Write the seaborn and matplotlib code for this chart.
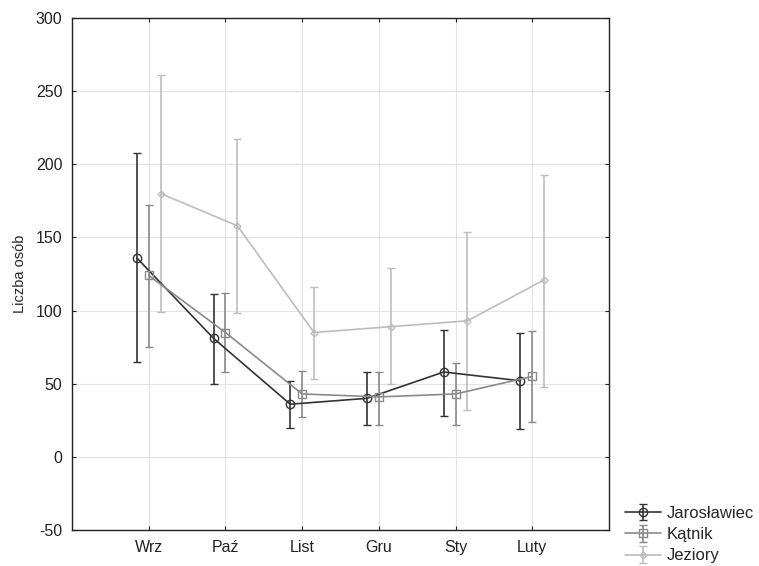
import matplotlib

matplotlib.use('Agg')
import matplotlib.pyplot as plt
import numpy as np
import pandas as pd
import seaborn as sns

months = ['Wrz', 'Paź', 'List', 'Gru', 'Sty', 'Luty']
sites = ['Jarosławiec', 'Kątnik', 'Jeziory']

jar_mean = [136, 81, 36, 40, 58, 52]
jar_low = [65, 50, 20, 22, 28, 19]
jar_high = [208, 111, 52, 58, 87, 85]

kat_mean = [124, 85, 43, 41, 43, 55]
kat_low = [75, 58, 27, 22, 22, 24]
kat_high = [172, 112, 59, 58, 64, 86]

jez_mean = [180, 158, 85, 89, 93, 121]
jez_low = [99, 98, 53, 50, 32, 48]
jez_high = [261, 217, 116, 129, 154, 193]

rows = []
for site, m, lo, hi in zip(sites,
                           [jar_mean, kat_mean, jez_mean],
                           [jar_low, kat_low, jez_low],
                           [jar_high, kat_high, jez_high]):
    for i, mon in enumerate(months):
        rows.append({'site': site, 'month': mon, 'idx': i,
                     'mean': m[i], 'low': lo[i], 'high': hi[i]})
df = pd.DataFrame(rows)

sns.set_style('whitegrid', {'grid.color': '#e3e3e3', 'axes.edgecolor': '#222222'})
plt.rcParams['font.family'] = ['Liberation Sans', 'DejaVu Sans']
plt.rcParams['axes.unicode_minus'] = False

fig = plt.figure(figsize=(7.59, 5.66), dpi=100)
ax = fig.add_axes([72 / 759, 36 / 566, 537 / 759, 512 / 566])

style = {'Jarosławiec': dict(color='#333333', marker='o', ms=6, off=-0.155),
         'Kątnik': dict(color='#8a8a8a', marker='s', ms=5.5, off=0.0),
         'Jeziory': dict(color='#bdbdbd', marker='D', ms=3.5, off=0.155)}

for site in sites:
    d = df.query('site == @site')
    s = style[site]
    x = d['idx'].values + s['off']
    yerr = [d['mean'] - d['low'], d['high'] - d['mean']]
    ax.errorbar(x, d['mean'], yerr=yerr, color=s['color'], marker=s['marker'],
                ms=s['ms'], mfc='none', mec=s['color'], mew=1.0, lw=1.2,
                elinewidth=1.2, capsize=3, capthick=1.2, label=site)

ax.set_xlim(-1, 6)
ax.set_ylim(-50, 300)
ax.set_xticks(range(len(months)))
ax.set_xticklabels(months)
ax.set_yticks(np.arange(-50, 301, 50))
ax.tick_params(axis='both', direction='in', length=3, labelsize=11.5, colors='#222222',
               top=True, right=True, bottom=True, left=True, pad=7)
ax.set_ylabel('Liczba osób', fontsize=10.5, labelpad=6)
ax.set_xlabel('')
for sp in ax.spines.values():
    sp.set_linewidth(1.0)

handles, labels = ax.get_legend_handles_labels()
fig.legend(handles, labels, loc='lower left', bbox_to_anchor=(613 / 759, -0.016),
           frameon=False, fontsize=12, handlelength=2.2, labelspacing=0.38,
           handletextpad=0.3, borderpad=0.2)

fig.savefig('out.png', dpi=100)
